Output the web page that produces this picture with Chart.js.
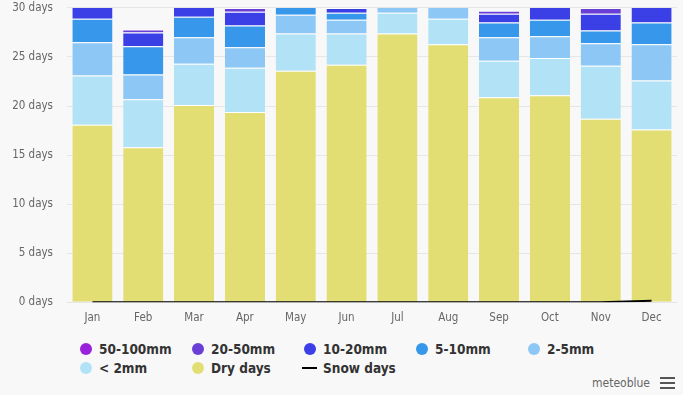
<!DOCTYPE html>
<html>
<head>
<meta charset="utf-8">
<script src="https://cdn.jsdelivr.net/npm/chart.js@4/dist/chart.umd.min.js"></script>
<style>
  html, body { margin: 0; padding: 0; background: #f8f8f8; }
  body { width: 683px; height: 395px; position: relative; overflow: hidden;
         font-family: "DejaVu Sans Condensed", "Liberation Sans Narrow", "DejaVu Sans", sans-serif; }
  #wrap { position: absolute; left: 0; top: -13px; width: 683px; height: 339px; }
  #legend { position: absolute; left: 78px; top: 339px; width: 600px; }
  .row { height: 19px; display: flex; }
  .item { width: 112px; display: flex; align-items: center; font-weight: bold; font-size: 13.5px; color: #333; }
  .dot { width: 12px; height: 12px; border-radius: 50%; margin-right: 7px; margin-left: 2px; }
  .dash { width: 15px; height: 2px; margin-right: 6px; margin-left: 0px; }
  #brand { position: absolute; right: 33px; top: 376px; font-size: 12px; color: #666; }
  #menu { position: absolute; right: 8px; top: 377px; width: 15px; }
  #menu div { height: 2px; background: #555; margin-bottom: 3px; }
</style>
</head>
<body>
<div id="wrap"><canvas id="chart"></canvas></div>
<div id="legend"></div>
<div id="brand">meteoblue</div>
<div id="menu"><div></div><div></div><div></div></div>
<script>
"use strict";

const months = ["Jan", "Feb", "Mar", "Apr", "May", "Jun", "Jul", "Aug", "Sep", "Oct", "Nov", "Dec"];
const yTicks = [0, 5, 10, 15, 20, 25, 30];

// days per month, stacked from the bottom
const dryDays   = [18.1, 15.8, 20.1, 19.4, 23.6, 24.2, 27.4, 26.3, 20.9, 21.1, 18.7, 17.6];
const below2    = [5.0, 4.9, 4.2, 4.5, 3.8, 3.2, 2.1, 2.6, 3.7, 3.8, 5.4, 5.0];
const mm2to5    = [3.4, 2.5, 2.7, 2.1, 1.9, 1.4, 1.5, 2.1, 2.4, 2.2, 2.3, 3.7];
const mm5to10   = [2.4, 2.9, 2.1, 2.2, 1.7, 0.7, 0, 0, 1.5, 1.7, 1.3, 2.2];
const mm10to20  = [2.1, 1.4, 1.9, 1.4, 0, 0.5, 0, 0, 0.9, 2.2, 1.7, 2.5];
const mm20to50  = [0, 0.3, 0, 0.4, 0, 0, 0, 0, 0.3, 0, 0.6, 0];
const mm50to100 = [0, 0, 0, 0, 0, 0, 0, 0, 0, 0, 0, 0];
const snowDays  = [0, 0, 0, 0, 0, 0, 0, 0, 0, 0, 0, 0.15];

const app = {
  series: [
    { label: "50-100mm", data: mm50to100, color: "#9a22dc" },
    { label: "20-50mm", data: mm20to50, color: "#6a3fd6" },
    { label: "10-20mm", data: mm10to20, color: "#3b3fe6" },
    { label: "5-10mm", data: mm5to10, color: "#3797ea" },
    { label: "2-5mm", data: mm2to5, color: "#8dc7f5" },
    { label: "< 2mm", data: below2, color: "#b2e2f6" },
    { label: "Dry days", data: dryDays, color: "#e2de74" }
  ],
  init() {
    this.renderChart();
    this.renderLegend();
  },
  renderChart() {
    const bars = this.series.slice().reverse().map(s => {
      return {
        type: "bar",
        label: s.label,
        data: s.data,
        backgroundColor: s.color,
        borderColor: "#ffffff",
        borderWidth: { top: 1, right: 0, bottom: 0, left: 0 },
        borderSkipped: false,
        stack: "rain",
        order: 1,
        categoryPercentage: 1,
        barPercentage: 0.79
      };
    });
    bars.push({
      type: "line",
      label: "Snow days",
      data: snowDays,
      borderColor: "#000000",
      borderWidth: 2,
      pointRadius: 0,
      tension: 0,
      stack: "snow",
      order: 0
    });

    new Chart("chart", {
      data: { labels: months, datasets: bars },
      options: {
        responsive: true,
        maintainAspectRatio: false,
        animation: false,
        layout: { padding: { left: 0, right: 6, top: 1, bottom: 0 } },
        plugins: { legend: { display: false }, tooltip: { enabled: false } },
        scales: {
          x: {
            stacked: true,
            grid: { display: false },
            border: { display: false },
            ticks: { color: "#666", font: { family: "DejaVu Sans Condensed", size: 11.5 }, padding: 1 }
          },
          y: {
            stacked: true,
            min: 0,
            max: 30,
            afterBuildTicks: (axis) => { axis.ticks = yTicks.map(v => ({ value: v })); },
            afterFit: (axis) => { axis.width = 67; },
            grid: { color: "#e6e6e6", drawTicks: false },
            border: { display: false },
            ticks: {
              color: "#666",
              padding: 14,
              font: { family: "DejaVu Sans Condensed", size: 11.5 },
              callback: (v) => v + " days"
            }
          }
        }
      }
    });
  },
  renderLegend() {
    const legend = document.getElementById("legend");
    const items = this.series.map(s => ({ label: s.label, color: s.color, line: false }));
    items.push({ label: "Snow days", color: "#000", line: true });
    let row;
    items.forEach((item, index) => {
      if (index % 5 === 0) {
        row = document.createElement("div");
        row.className = "row";
        legend.appendChild(row);
      }
      const el = document.createElement("div");
      el.className = "item";
      const mark = document.createElement("span");
      mark.className = item.line ? "dash" : "dot";
      mark.style.background = item.color;
      el.appendChild(mark);
      el.appendChild(document.createTextNode(item.label));
      row.appendChild(el);
    });
  }
};

app.init();
</script>
</body>
</html>
